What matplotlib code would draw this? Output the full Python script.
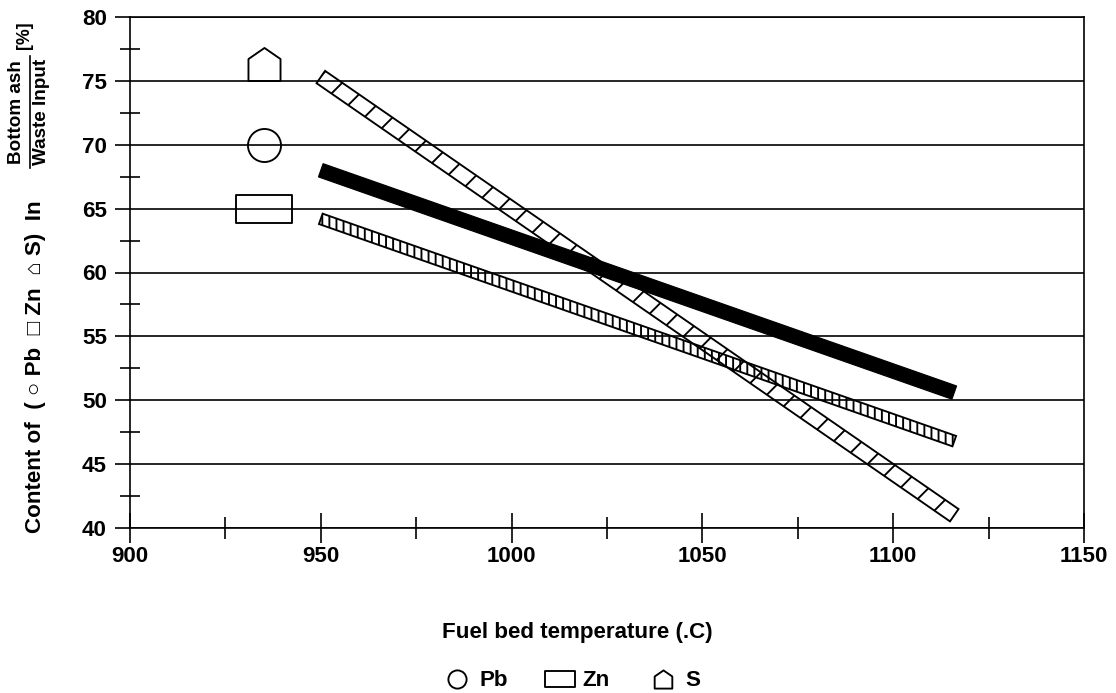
import numpy as np
import matplotlib
matplotlib.use("Agg")
import matplotlib.pyplot as plt
from matplotlib.path import Path
from matplotlib.patches import Polygon
from matplotlib.lines import Line2D
from matplotlib.ticker import MultipleLocator

# Regression lines (fuel bed temperature vs. content)
temp_range = [950, 1116]
pb_content = [68.0, 50.6]
zn_content = [64.2, 46.8]
s_content = [75.3, 41.0]

# Reference symbols drawn at the left of the chart
ref_temp = 935
pb_ref = 70.0
zn_ref = 65.0
s_ref = 76.3

DPI = 85
FONT = "Liberation Sans Narrow"
plt.rcParams["font.family"] = [FONT, "Liberation Sans", "DejaVu Sans"]
plt.rcParams["font.weight"] = "bold"
plt.rcParams["hatch.linewidth"] = 1.6
plt.rcParams["axes.linewidth"] = 1.4

fig = plt.figure(figsize=(1116 / DPI, 693 / DPI), dpi=DPI)
W, H = 1116, 693
ax = fig.add_axes([130 / W, 1 - 528 / H, (1084 - 130) / W, (528 - 17) / H])
ax.set_xlim(900, 1150)
ax.set_ylim(40, 80)


def band(ax, x, y, width_px, **kw):
    # rectangle of fixed pixel width along the line from (x0,y0) to (x1,y1)
    p = ax.transData.transform(np.column_stack([x, y]))
    d = p[1] - p[0]
    d = d / np.hypot(d[0], d[1])
    n = np.array([-d[1], d[0]]) * width_px / 2
    corners = np.array([p[0] + n, p[1] + n, p[1] - n, p[0] - n])
    poly = Polygon(ax.transData.inverted().transform(corners), closed=True, **kw)
    ax.add_patch(poly)
    return poly


band(ax, temp_range, s_content, 15, facecolor="none", edgecolor="black",
     hatch="/", lw=1.6, zorder=3)
band(ax, temp_range, zn_content, 11, facecolor="none", edgecolor="black",
     hatch="||", lw=1.6, zorder=3)
band(ax, temp_range, pb_content, 14, facecolor="black", edgecolor="black",
     lw=1.0, zorder=4)

# custom marker shapes
rect_marker = Path([(-1, -0.5), (1, -0.5), (1, 0.5), (-1, 0.5), (-1, -0.5)],
                   [Path.MOVETO, Path.LINETO, Path.LINETO, Path.LINETO, Path.CLOSEPOLY])
house_marker = Path([(-0.97, -1), (0.97, -1), (0.97, 0.33), (0, 1), (-0.97, 0.33), (-0.97, -1)],
                    [Path.MOVETO] + [Path.LINETO] * 4 + [Path.CLOSEPOLY])

ax.plot([ref_temp], [pb_ref], marker="o", ms=28, mfc="none", mec="black",
        mew=1.6, ls="none", label="Pb", zorder=5)
ax.plot([ref_temp], [zn_ref], marker=rect_marker, ms=46.6, mfc="none", mec="black",
        mew=1.6, ls="none", label="Zn", zorder=5)
ax.plot([ref_temp], [s_ref], marker=house_marker, ms=28, mfc="none", mec="black",
        mew=1.6, ls="none", label="S", zorder=5)

# axes styling
ax.xaxis.set_major_locator(MultipleLocator(50))
ax.xaxis.set_minor_locator(MultipleLocator(25))
ax.yaxis.set_major_locator(MultipleLocator(5))
ax.yaxis.set_minor_locator(MultipleLocator(2.5))
ax.tick_params(axis="x", which="major", direction="inout", length=26, width=1.4,
               labelsize=19, pad=2)
ax.tick_params(axis="x", which="minor", direction="inout", length=18, width=1.4)
ax.tick_params(axis="y", which="major", direction="out", length=12.5, width=1.4,
               labelsize=19, pad=7)
ax.tick_params(axis="y", which="minor", direction="inout", length=17, width=1.4)
ax.grid(axis="y", which="major", color="black", lw=1.4)
ax.set_axisbelow(True)

# y axis label: main text, fraction (numerator / bar / denominator) and unit
fig.text(36 / W, 1 - 533 / H, "Content of  ( ○ Pb  □ Zn  ⌂ S)  In", rotation=90,
         ha="center", va="bottom", fontsize=19)
fig.text(17 / W, 1 - 112 / H, "Bottom ash", rotation=90, ha="center", va="center",
         fontsize=16)
fig.text(42 / W, 1 - 112 / H, "Waste Input", rotation=90, ha="center", va="center",
         fontsize=16)
fig.add_artist(Line2D([29.5 / W, 29.5 / W], [1 - 168 / H, 1 - 56 / H], color="black",
                      lw=1.4, transform=fig.transFigure))
fig.text(24 / W, 1 - 35 / H, "[%]", rotation=90, ha="center", va="center", fontsize=15)

fig.text(577 / W, 55 / H, "Fuel bed temperature (.C)", ha="center", va="baseline",
         fontsize=19)

fig.legend(loc="center", bbox_to_anchor=(570 / W, 1 - 681 / H), ncol=3, frameon=False,
           markerscale=0.55, fontsize=19, handlelength=1.5, handletextpad=0.25,
           columnspacing=1.6, numpoints=1)

fig.savefig("out.png", dpi=DPI)
